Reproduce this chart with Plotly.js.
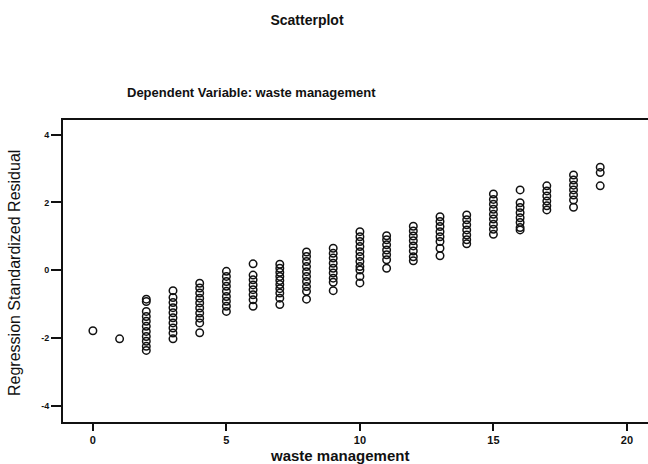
<!DOCTYPE html>
<html>
<head>
<meta charset="utf-8">
<script src="https://cdn.plot.ly/plotly-3.0.1.min.js"></script>
<style>
html,body{margin:0;padding:0;background:#fff;}
#chart{width:648px;height:464px;}
</style>
</head>
<body>
<div id="chart"></div>
<script>
// waste management score (x) for each case
const wasteScores = [
  0,
  1,
  2,2,2,2,2,2,2,2,2,2,2,
  3,3,3,3,3,3,3,3,3,3,
  4,4,4,4,4,4,4,4,4,4,
  5,5,5,5,5,5,5,5,5,
  6,6,6,6,6,6,6,6,
  7,7,7,7,7,7,7,7,7,7,
  8,8,8,8,8,8,8,8,8,8,
  9,9,9,9,9,9,9,9,9,
  10,10,10,10,10,10,10,10,10,10,10,
  11,11,11,11,11,11,11,
  12,12,12,12,12,12,12,12,
  13,13,13,13,13,13,13,13,
  14,14,14,14,14,14,14,
  15,15,15,15,15,15,15,15,15,
  16,16,16,16,16,16,16,16,
  17,17,17,17,17,17,
  18,18,18,18,18,18,18,
  19,19,19
];
// regression standardized residual for each case
const residuals = [
  -1.78,
  -2.02,
  -0.85,-0.92,-1.21,-1.36,-1.50,-1.65,-1.80,-1.95,-2.09,-2.24,-2.36,
  -0.60,-0.80,-0.95,-1.10,-1.25,-1.40,-1.55,-1.70,-1.85,-2.02,
  -0.38,-0.52,-0.67,-0.82,-0.96,-1.11,-1.26,-1.41,-1.55,-1.84,
  -0.03,-0.18,-0.33,-0.47,-0.62,-0.77,-0.91,-1.06,-1.21,
  0.19,-0.14,-0.28,-0.43,-0.57,-0.72,-0.87,-1.06,
  0.18,0.06,-0.06,-0.18,-0.30,-0.42,-0.54,-0.67,-0.82,-1.01,
  0.54,0.41,0.26,0.11,-0.04,-0.18,-0.33,-0.48,-0.62,-0.85,
  0.65,0.50,0.36,0.21,0.06,-0.08,-0.23,-0.35,-0.60,
  1.14,0.99,0.85,0.70,0.55,0.41,0.26,0.11,0.01,-0.18,-0.37,
  1.02,0.90,0.75,0.60,0.46,0.31,0.06,
  1.30,1.16,1.01,0.87,0.72,0.57,0.40,0.28,
  1.58,1.44,1.29,1.14,0.99,0.85,0.65,0.43,
  1.63,1.49,1.34,1.19,1.04,0.90,0.78,
  2.25,2.09,1.95,1.80,1.65,1.51,1.36,1.21,1.06,
  2.37,1.99,1.85,1.70,1.55,1.41,1.26,1.19,
  2.49,2.34,2.19,2.04,1.90,1.78,
  2.81,2.66,2.51,2.37,2.22,2.07,1.86,
  3.04,2.88,2.49
];
const xTickVals = [0, 5, 10, 15, 20];
const yTickVals = [-4, -2, 0, 2, 4];

const chartTitle = "Scatterplot";
const chartSubtitle = "Dependent Variable: waste management";
const xTitle = "waste management";
const yTitle = "Regression Standardized Residual";

const boldFont = "Liberation Sans, Arial, sans-serif";
const narrowFont = "Liberation Sans Narrow, Arial Narrow, Liberation Sans, sans-serif";

// plot area geometry (pixels)
const W = 648, H = 464, L = 63, T = 120, B = 42;
const PW = W - L, PH = H - T - B;
const px2paperX = (px) => (px - L) / PW;
const py2paperY = (py) => (H - B - py) / PH;

const trace = {
  type: "scatter",
  mode: "markers",
  x: wasteScores,
  y: residuals,
  marker: {
    symbol: "circle-open",
    size: 7.5,
    color: "#111",
    line: {width: 1.5, color: "#111"}
  },
  hoverinfo: "x+y"
};

const layout = {
  width: W,
  height: H,
  paper_bgcolor: "#ffffff",
  plot_bgcolor: "#ffffff",
  showlegend: false,
  margin: {l: L, r: 0, t: T, b: B, pad: 0},
  title: {
    text: "<b>" + chartTitle + "</b>",
    font: {family: boldFont, size: 14, color: "#111"},
    x: 307 / W, xref: "container", xanchor: "center",
    y: 1 - 20 / H, yref: "container", yanchor: "middle"
  },
  annotations: [
    {
      text: "<b>" + chartSubtitle + "</b>",
      xref: "paper", yref: "paper",
      x: px2paperX(251), y: py2paperY(92),
      xanchor: "center", yanchor: "middle",
      showarrow: false,
      font: {family: boldFont, size: 13, color: "#111"}
    },
    {
      text: "<b>" + xTitle + "</b>",
      xref: "paper", yref: "paper",
      x: px2paperX(339), y: py2paperY(455),
      xanchor: "center", yanchor: "middle",
      showarrow: false,
      font: {family: boldFont, size: 15, color: "#111"}
    },
    {
      text: yTitle,
      xref: "paper", yref: "paper",
      x: px2paperX(14), y: py2paperY(273),
      xanchor: "center", yanchor: "middle",
      textangle: -90,
      showarrow: false,
      font: {family: narrowFont, size: 16, color: "#111"}
    }
  ],
  xaxis: {
    range: [-1.12, 20.79],
    tickvals: xTickVals,
    ticktext: xTickVals.map(String),
    ticks: "outside", ticklen: 7, tickwidth: 2, tickcolor: "#111",
    showline: true, linecolor: "#111", linewidth: 2, mirror: true,
    showgrid: false, zeroline: false,
    tickfont: {family: boldFont, size: 11, color: "#111", weight: "bold"},
    automargin: false
  },
  yaxis: {
    range: [-4.47, 4.43],
    tickvals: yTickVals,
    ticktext: yTickVals.map(String),
    ticks: "outside", ticklen: 10, tickwidth: 2, tickcolor: "#111",
    showline: true, linecolor: "#111", linewidth: 2, mirror: false,
    showgrid: false, zeroline: false,
    tickfont: {family: boldFont, size: 9, color: "#111", weight: "bold"},
    automargin: false
  }
};

Plotly.newPlot("chart", [trace], layout, {staticPlot: true, displayModeBar: false});
</script>
</body>
</html>
